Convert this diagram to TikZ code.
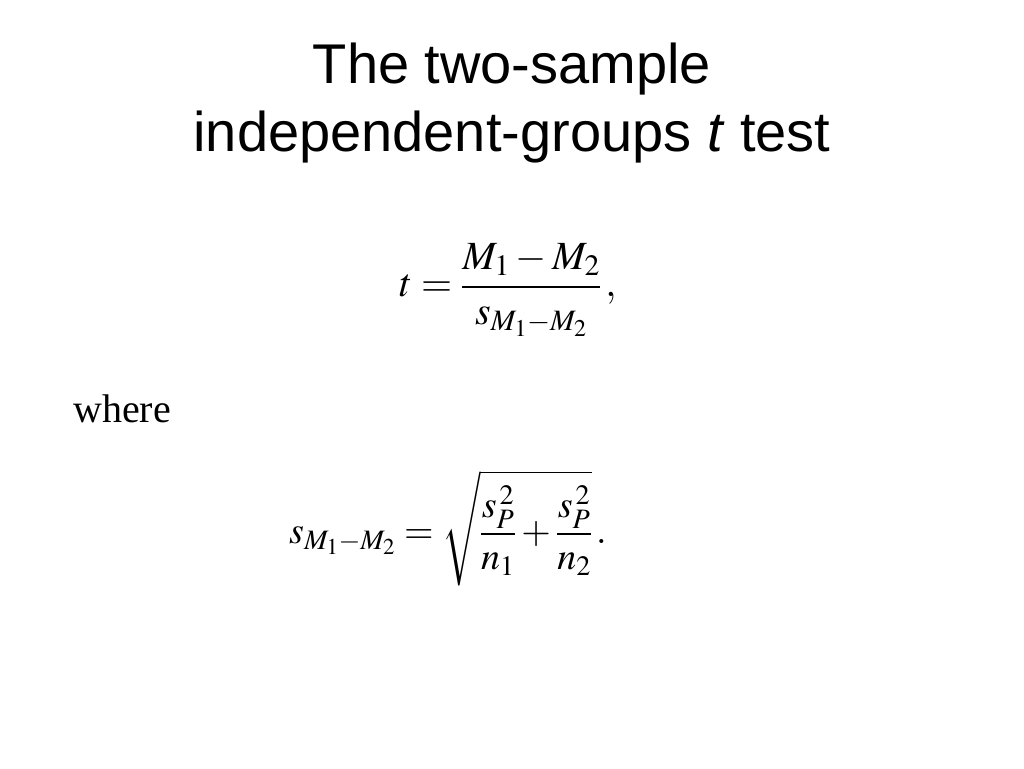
\documentclass[tikz,border=0pt]{standalone}
\usepackage{amsmath}
\usepackage{mathptmx}
\usepackage{fontspec}
\setmainfont{Liberation Serif}
\newfontfamily\titlefont{Liberation Sans}
\begin{document}
\begin{tikzpicture}[x=1pt,y=-1pt]
\useasboundingbox (0,0) rectangle (1024,768);
\tikzset{ttl/.style={font=\titlefont\fontsize{56}{64}\selectfont,anchor=base,inner sep=0},
 eq/.style={inner sep=0}}
\node[ttl] (t1) at (512,83) {The two-sample};
\node[ttl] (t2) at (512,151) {independent-groups \textit{t} test};
\node[eq,font=\fontsize{40}{48}\selectfont] (f1) at (508,290) {$t=\dfrac{M_1-M_2}{s_{M_1-M_2}}\,,$};
\node[inner sep=0,anchor=base west,font=\fontsize{40}{46}\selectfont] (w) at (73,422) {where};
\node[eq,font=\fontsize{38}{46}\selectfont] (f2) at (448,528) {$s_{M_1-M_2}=\sqrt{\dfrac{s_{P}^{\,2}}{n_1}+\dfrac{s_{P}^{\,2}}{n_2}}\,.$};
\end{tikzpicture}
\end{document}
